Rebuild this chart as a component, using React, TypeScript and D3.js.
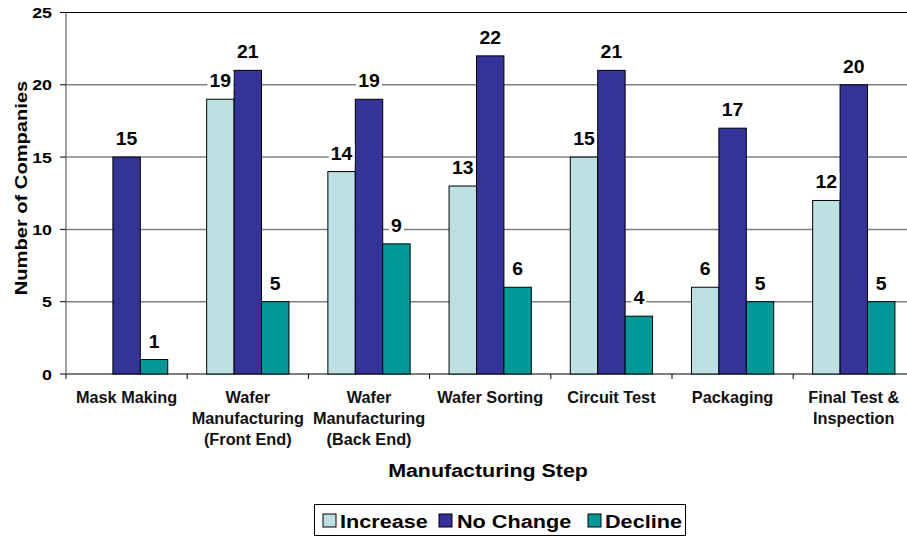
import React from "react";
import * as d3 from "d3";

// chart data
const categories = [
  ["Mask Making"],
  ["Wafer", "Manufacturing", "(Front End)"],
  ["Wafer", "Manufacturing", "(Back End)"],
  ["Wafer Sorting"],
  ["Circuit Test"],
  ["Packaging"],
  ["Final Test &", "Inspection"],
];
const seriesNames = ["Increase", "No Change", "Decline"];
const increase = [0, 19, 14, 13, 15, 6, 12];
const noChange = [15, 21, 19, 22, 21, 17, 20];
const decline = [1, 5, 9, 6, 4, 5, 5];
const yTicks = [0, 5, 10, 15, 20, 25];
const colors = ["#BDE0E3", "#333399", "#009999"];

const W = 907;
const H = 537;
const left = 66;
const top = 12.5;
const bottom = 374;
const band = 121.2;

// text stretched horizontally like the original (it was scaled wider)
function SText({ x, y, sx = 1, rot = 0, anchor = "middle", size, children }: any) {
  return (
    <text
      transform={`translate(${x},${y}) rotate(${rot}) scale(${sx},1)`}
      textAnchor={anchor}
      fontSize={size}
    >
      {children}
    </text>
  );
}

export default function App() {
  const series = [increase, noChange, decline];
  const x = d3
    .scaleBand<number>()
    .domain(d3.range(categories.length))
    .range([left, left + band * categories.length]);
  const inner = d3
    .scaleBand<number>()
    .domain([0, 1, 2])
    .range([0, x.bandwidth()])
    .paddingOuter(0.71)
    .paddingInner(0);
  const y = d3.scaleLinear().domain([0, 25]).range([bottom, top]);
  const font = "Arial, 'Liberation Sans', sans-serif";

  const legendPos = [
    { x: 323, tx: 340 },
    { x: 439, tx: 457 },
    { x: 588, tx: 605 },
  ];

  return (
    <svg
      width={W}
      height={H}
      style={{ position: "absolute", left: 0, top: 0, background: "#fff" }}
      fontFamily={font}
      fontWeight="bold"
    >
      {/* grid */}
      {yTicks.map((t) => (
        <line
          key={"g" + t}
          x1={left}
          x2={W}
          y1={y(t)}
          y2={y(t)}
          stroke={t === 25 || t === 0 ? "#000" : "#808080"}
          strokeWidth={t === 25 || t === 0 ? 1.2 : 1.5}
        />
      ))}
      {/* y axis */}
      <line x1={left} x2={left} y1={top} y2={bottom} stroke="#808080" strokeWidth={1.5} />
      {yTicks.map((t) => (
        <g key={"t" + t}>
          <line x1={left - 6} x2={left} y1={y(t)} y2={y(t)} stroke="#000" />
          <SText x={52} y={y(t) + 5.5} anchor="end" size={15.5} sx={1.15}>
            {t}
          </SText>
        </g>
      ))}
      <SText x={27} y={188} rot={-90} size={16.5} sx={1.22}>
        Number of Companies
      </SText>
      {/* x ticks */}
      {d3.range(categories.length + 1).map((i) => (
        <line
          key={"xt" + i}
          x1={left + band * i}
          x2={left + band * i}
          y1={bottom}
          y2={bottom + 5}
          stroke="#000"
        />
      ))}
      {/* bars */}
      {categories.map((c, i) =>
        series.map((s, k) =>
          s[i] > 0 ? (
            <rect
              key={`b${i}-${k}`}
              x={(x(i) as number) + (inner(k) as number)}
              y={y(s[i])}
              width={inner.bandwidth()}
              height={bottom - y(s[i])}
              fill={colors[k]}
              stroke="#000"
              strokeWidth={1}
            />
          ) : null
        )
      )}
      {/* value labels */}
      {categories.map((c, i) =>
        series.map((s, k) => {
          if (s[i] <= 0) return null;
          const cx = (x(i) as number) + (inner(k) as number) + inner.bandwidth() / 2;
          const ty = y(s[i]) - 12;
          const wBox = String(s[i]).length * 11 + 4;
          return (
            <g key={`l${i}-${k}`}>
              <rect x={cx - wBox / 2} y={ty - 16} width={wBox} height={19} fill="#fff" />
              <SText x={cx} y={ty} size={18.5} sx={1.05}>
                {s[i]}
              </SText>
            </g>
          );
        })
      )}
      {/* category labels */}
      {categories.map((lines, i) => (
        <text
          key={"c" + i}
          x={(x(i) as number) + band / 2}
          y={403}
          textAnchor="middle"
          fontSize={16.3}
          fill="#111"
        >
          {lines.map((ln, j) => (
            <tspan key={j} x={(x(i) as number) + band / 2} dy={j === 0 ? 0 : 21}>
              {ln}
            </tspan>
          ))}
        </text>
      ))}
      <SText x={488} y={477} size={18} sx={1.19}>
        Manufacturing Step
      </SText>
      {/* legend */}
      <rect x={314.5} y={504.5} width={371} height={31} fill="#fff" stroke="#000" strokeWidth={1} />
      {seriesNames.map((n, k) => (
        <g key={"lg" + k}>
          <rect x={legendPos[k].x} y={514} width={13} height={13} fill={colors[k]} stroke="#000" />
          <SText x={legendPos[k].tx} y={528} anchor="start" size={18.5} sx={1.17}>
            {n}
          </SText>
        </g>
      ))}
    </svg>
  );
}
